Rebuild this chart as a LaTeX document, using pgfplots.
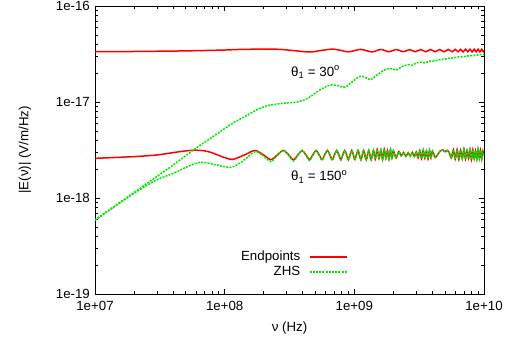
\documentclass[border=0pt]{standalone}
\usepackage{fontspec}
\setmainfont{Liberation Sans}
\usepackage{pgfplots}
\pgfplotsset{compat=1.18}
\definecolor{gred}{RGB}{255,0,0}
\definecolor{ggreen}{RGB}{0,232,0}
\begin{document}
\fontsize{13.3bp}{15bp}\selectfont
\begin{tikzpicture}
\path[use as bounding box] (-95bp,-51bp) rectangle (417bp,294bp);
\begin{axis}[
  at={(0,0)}, anchor=south west,
  scale only axis, width=389bp, height=288bp,
  xmode=log, ymode=log,
  xmin=1e7, xmax=1e10, ymin=1e-19, ymax=1e-16,
  xtick={1e7,1e8,1e9,1e10},
  minor xtick={2e7,3e7,4e7,5e7,6e7,7e7,8e7,9e7,2e8,3e8,4e8,5e8,6e8,7e8,8e8,9e8,2e9,3e9,4e9,5e9,6e9,7e9,8e9,9e9},
  ytick={1e-19,1e-18,1e-17,1e-16},
  minor ytick={2e-19,3e-19,4e-19,5e-19,6e-19,7e-19,8e-19,9e-19,2e-18,3e-18,4e-18,5e-18,6e-18,7e-18,8e-18,9e-18,2e-17,3e-17,4e-17,5e-17,6e-17,7e-17,8e-17,9e-17},
  xticklabels={1e+07,1e+08,1e+09,1e+10},
  yticklabels={1e-19,1e-18,1e-17,1e-16},
  xticklabel style={yshift=-2.5bp},
  yticklabel style={xshift=-0.5bp},
  tick align=inside, tick pos=both,
  major tick length=5bp, minor tick length=3bp,
  tick style={black, line width=0.7bp},
  axis line style={black, line width=1bp},
  xlabel={ν (Hz)}, ylabel={|E(ν)| (V/m/Hz)},
  xlabel style={at={(axis description cs:0.5,0)}, anchor=center, yshift=-34bp},
  ylabel style={at={(axis description cs:-0.18,0.5)}, anchor=center},
  legend plot pos=right,
  legend cell align=right,
  legend style={draw=none, fill=none, at={(axis description cs:0.649,0.103)}, anchor=east,
    inner sep=0pt, row sep=2bp, /tikz/column sep=8bp,
    nodes={inner sep=0.5bp, text height=9.5bp, text depth=2.5bp},
    font=\fontsize{13.3bp}{15bp}\selectfont},
  legend image code/.code={\draw[#1] (0bp,0bp) -- (37bp,0bp);},
]
% Endpoints, theta = 30
\addplot[gred, line width=1.5bp, smooth] coordinates {
(1e7,3.34e-17) (2e7,3.36e-17) (5e7,3.41e-17) (1e8,3.48e-17) (1.3e8,3.53e-17) (2.2e8,3.56e-17)
(2.8e8,3.52e-17) (3.5e8,3.42e-17) (4.55e8,3.32e-17) (5.6e8,3.45e-17) (6.8e8,3.56e-17) (7.9e8,3.45e-17)
(9.0e8,3.33e-17) (1.12e9,3.53e-17) (1.37e9,3.33e-17) (1.6e9,3.53e-17) (1.85e9,3.34e-17) (2.1e9,3.52e-17)
(2.4e9,3.34e-17) (2.67e9,3.52e-17) (2.95e9,3.34e-17) (3.25e9,3.52e-17) (3.55e9,3.34e-17) (3.87e9,3.52e-17)
(4.2e9,3.34e-17) (4.55e9,3.52e-17) (4.9e9,3.34e-17) (5.3e9,3.52e-17) (5.7e9,3.34e-17) (6.0e9,3.54e-17)
(6.3e9,3.34e-17) (6.6e9,3.54e-17) (6.9e9,3.33e-17) (7.2e9,3.55e-17) (7.5e9,3.34e-17) (7.8e9,3.55e-17)
(8.1e9,3.33e-17) (8.4e9,3.55e-17) (8.7e9,3.34e-17) (9.0e9,3.55e-17) (9.3e9,3.33e-17) (9.6e9,3.55e-17)
(9.85e9,3.34e-17) (1e10,3.46e-17)
};
\addlegendentry{Endpoints}
% Endpoints, theta = 150
\addplot[gred, line width=1.5bp, smooth, forget plot] coordinates {
(1e7,2.59e-18) (2e7,2.70e-18) (3e7,2.81e-18) (4e7,2.97e-18) (5e7,3.10e-18) (6e7,3.15e-18) (7e7,3.10e-18)
(8e7,2.96e-18) (9e7,2.78e-18) (1e8,2.64e-18) (1.15e8,2.52e-18) (1.43e8,2.82e-18) (1.71e8,3.13e-18)
(1.99e8,2.82e-18) (2.27e8,2.51e-18) (2.55e8,2.82e-18) (2.83e8,3.13e-18) (3.11e8,2.82e-18) (3.39e8,2.51e-18)
(3.67e8,2.82e-18) (3.95e8,3.13e-18) (4.23e8,2.82e-18) (4.51e8,2.51e-18) (4.79e8,2.82e-18) (5.07e8,3.13e-18)
(5.35e8,2.82e-18) (5.63e8,2.51e-18) (5.91e8,2.82e-18) (6.19e8,3.13e-18) (6.47e8,2.82e-18) (6.75e8,2.51e-18)
(7.03e8,2.82e-18) (7.31e8,3.13e-18) (7.59e8,2.82e-18) (7.87e8,2.51e-18) (8.15e8,2.82e-18) (8.43e8,3.13e-18)
(8.71e8,2.82e-18) (8.99e8,2.51e-18) (9.27e8,2.82e-18) (9.55e8,3.13e-18) (9.83e8,2.82e-18) (1.011e9,2.51e-18)
(1.067e9,3.13e-18) (1.123e9,2.51e-18) (1.179e9,3.13e-18) (1.235e9,2.51e-18) (1.291e9,3.13e-18)
(1.347e9,2.51e-18) (1.403e9,3.13e-18)
(1.45e9,2.55e-18) (1.50e9,3.20e-18) (1.55e9,2.58e-18) (1.60e9,3.15e-18) (1.65e9,2.52e-18) (1.70e9,3.22e-18)
(1.75e9,2.60e-18) (1.80e9,3.12e-18) (1.85e9,2.55e-18) (1.90e9,3.18e-18) (1.95e9,2.62e-18) (2.00e9,3.10e-18)
(2.1e9,2.62e-18) (2.2e9,3.05e-18) (2.3e9,2.75e-18) (2.4e9,2.98e-18) (2.5e9,2.72e-18) (2.6e9,2.96e-18)
(2.7e9,2.74e-18) (2.8e9,2.98e-18) (2.9e9,2.70e-18) (3.0e9,3.02e-18) (3.1e9,2.62e-18) (3.2e9,3.12e-18)
(3.3e9,2.58e-18) (3.4e9,3.15e-18) (3.5e9,2.60e-18) (3.6e9,3.10e-18) (3.7e9,2.56e-18) (3.8e9,3.14e-18)
(3.9e9,2.62e-18) (4.0e9,3.08e-18) (4.2e9,2.65e-18) (4.4e9,2.85e-18) (4.6e9,3.10e-18) (4.8e9,3.16e-18)
(5.0e9,3.04e-18) (5.2e9,3.14e-18) (5.4e9,2.95e-18) (5.6e9,2.62e-18) (5.8e9,3.18e-18) (6.0e9,2.55e-18)
(6.2e9,3.20e-18) (6.4e9,2.52e-18) (6.6e9,3.15e-18) (6.8e9,2.56e-18) (7.0e9,3.22e-18) (7.2e9,2.55e-18)
(7.4e9,3.12e-18) (7.6e9,2.60e-18) (7.8e9,3.20e-18) (8.0e9,2.52e-18) (8.2e9,3.18e-18) (8.4e9,2.58e-18)
(8.6e9,3.10e-18) (8.8e9,2.55e-18) (9.0e9,3.20e-18) (9.2e9,2.60e-18) (9.4e9,3.15e-18) (9.6e9,2.55e-18)
(9.8e9,3.12e-18) (1e10,2.80e-18)
};
% ZHS, theta = 30
\addplot[ggreen, line width=1.5bp, dash pattern=on 2bp off 1.2bp, smooth] coordinates {
(1e7,5.9e-19) (1.5e7,8.7e-19) (2e7,1.14e-18) (3e7,1.68e-18) (4e7,2.2e-18) (5.8e7,3.2e-18) (8e7,4.3e-18)
(1e8,5.3e-18) (1.22e8,6.3e-18) (1.5e8,7.3e-18) (1.74e8,8.2e-18) (2.1e8,9.1e-18) (2.5e8,9.5e-18)
(3.0e8,9.8e-18) (3.6e8,1.0e-17) (4.1e8,1.05e-17) (4.6e8,1.14e-17) (5.4e8,1.33e-17) (6.2e8,1.47e-17)
(6.8e8,1.51e-17) (7.6e8,1.47e-17) (8.5e8,1.43e-17) (9.5e8,1.6e-17) (1.1e9,1.85e-17) (1.22e9,1.8e-17)
(1.34e9,1.71e-17) (1.55e9,1.98e-17) (1.75e9,2.2e-17) (1.95e9,2.22e-17) (2.1e9,2.15e-17) (2.35e9,2.35e-17)
(2.6e9,2.45e-17) (2.8e9,2.42e-17) (3.0e9,2.55e-17) (3.3e9,2.6e-17) (3.5e9,2.56e-17) (3.8e9,2.66e-17)
(4.2e9,2.68e-17) (4.5e9,2.76e-17) (4.9e9,2.78e-17) (5.3e9,2.85e-17) (5.8e9,2.88e-17) (6.3e9,2.95e-17)
(7.0e9,2.97e-17) (7.6e9,3.03e-17) (8.3e9,3.04e-17) (9.0e9,3.1e-17) (1e10,3.12e-17)
};
\addlegendentry{ZHS}
% ZHS, theta = 150
\addplot[ggreen, line width=1.5bp, dash pattern=on 2bp off 1.2bp, smooth, forget plot] coordinates {
(1e7,5.9e-19) (1.5e7,8.6e-19) (2e7,1.12e-18) (3e7,1.55e-18) (4e7,1.80e-18) (5e7,2.08e-18) (5.5e7,2.20e-18)
(6.45e7,2.35e-18) (7.5e7,2.31e-18) (8.5e7,2.22e-18) (1e8,2.12e-18) (1.12e8,2.09e-18) (1.25e8,2.22e-18)
(1.43e8,2.52e-18) (1.6e8,2.88e-18) (1.75e8,3.05e-18) (1.99e8,2.74e-18) (2.27e8,2.40e-18) (2.55e8,2.78e-18)
(2.83e8,3.12e-18) (3.11e8,2.80e-18) (3.39e8,2.43e-18) (3.67e8,2.80e-18) (3.95e8,3.12e-18) (4.23e8,2.80e-18)
(4.51e8,2.46e-18) (4.79e8,2.80e-18) (5.07e8,3.12e-18) (5.35e8,2.80e-18) (5.63e8,2.47e-18) (5.91e8,2.80e-18)
(6.19e8,3.12e-18) (6.47e8,2.80e-18) (6.75e8,2.48e-18) (7.03e8,2.80e-18) (7.31e8,3.12e-18) (7.59e8,2.80e-18)
(7.87e8,2.48e-18) (8.15e8,2.81e-18) (8.43e8,3.12e-18) (8.71e8,2.81e-18) (8.99e8,2.49e-18) (9.27e8,2.81e-18)
(9.55e8,3.12e-18) (9.83e8,2.81e-18) (1.011e9,2.50e-18) (1.067e9,3.13e-18) (1.123e9,2.50e-18)
(1.179e9,3.13e-18) (1.235e9,2.51e-18) (1.291e9,3.13e-18) (1.347e9,2.51e-18) (1.403e9,3.13e-18)
(1.45e9,2.55e-18) (1.50e9,3.20e-18) (1.55e9,2.58e-18) (1.60e9,3.15e-18) (1.65e9,2.52e-18) (1.70e9,3.22e-18)
(1.75e9,2.60e-18) (1.80e9,3.12e-18) (1.85e9,2.55e-18) (1.90e9,3.18e-18) (1.95e9,2.62e-18) (2.00e9,3.10e-18)
(2.1e9,2.62e-18) (2.2e9,3.05e-18) (2.3e9,2.75e-18) (2.4e9,2.98e-18) (2.5e9,2.72e-18) (2.6e9,2.96e-18)
(2.7e9,2.74e-18) (2.8e9,2.98e-18) (2.9e9,2.70e-18) (3.0e9,3.02e-18) (3.1e9,2.62e-18) (3.2e9,3.12e-18)
(3.3e9,2.58e-18) (3.4e9,3.15e-18) (3.5e9,2.60e-18) (3.6e9,3.10e-18) (3.7e9,2.56e-18) (3.8e9,3.14e-18)
(3.9e9,2.62e-18) (4.0e9,3.08e-18) (4.2e9,2.65e-18) (4.4e9,2.85e-18) (4.6e9,3.10e-18) (4.8e9,3.16e-18)
(5.0e9,3.04e-18) (5.2e9,3.14e-18) (5.4e9,2.95e-18) (5.6e9,2.62e-18) (5.8e9,3.18e-18) (6.0e9,2.55e-18)
(6.2e9,3.20e-18) (6.4e9,2.52e-18) (6.6e9,3.15e-18) (6.8e9,2.56e-18) (7.0e9,3.22e-18) (7.2e9,2.55e-18)
(7.4e9,3.12e-18) (7.6e9,2.60e-18) (7.8e9,3.20e-18) (8.0e9,2.52e-18) (8.2e9,3.18e-18) (8.4e9,2.58e-18)
(8.6e9,3.10e-18) (8.8e9,2.55e-18) (9.0e9,3.20e-18) (9.2e9,2.60e-18) (9.4e9,3.15e-18) (9.6e9,2.55e-18)
(9.8e9,3.12e-18) (1e10,2.80e-18)
};
\node[anchor=west] at (axis cs:3.0e8,2.05e-17) {θ\textsubscript{1} = 30\textsuperscript{o}};
\node[anchor=west] at (axis cs:3.0e8,1.66e-18) {θ\textsubscript{1} = 150\textsuperscript{o}};
\end{axis}
\end{tikzpicture}
\end{document}
